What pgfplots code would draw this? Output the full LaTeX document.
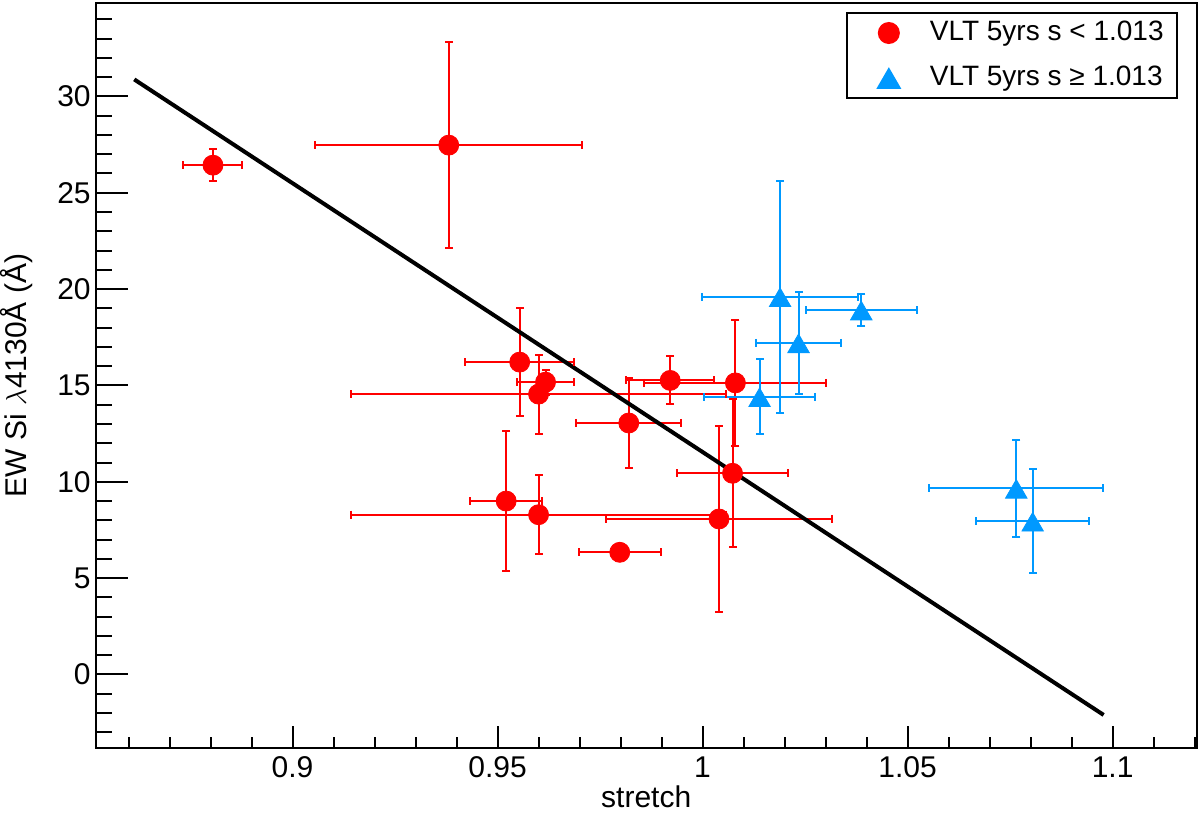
\documentclass[border=0pt]{standalone}
\usepackage{pgfplots}
\usepackage{pgfplotstable}
\pgfplotsset{compat=1.18}
\usepackage{fontspec}
\setmainfont{Liberation Sans}

\definecolor{ptred}{RGB}{255,0,0}
\definecolor{ptblue}{RGB}{0,153,255}

% VLT 5yrs, s < 1.013
\pgfplotstableread{
x       y      ex      ey
0.8806  26.43  0.0072  0.83
0.9381  27.47  0.0326  5.33
0.9554  16.21  0.0133  2.80
0.9617  15.17  0.0069  0.65
0.9600  14.55  0.0457  2.05
0.9521  9.00   0.0088  3.62
0.9600  8.29   0.0457  2.04
0.9798  6.34   0.0100  0.20
1.0040  8.07   0.0275  4.82
1.0073  10.44  0.0135  3.85
1.0080  15.13  0.0222  3.26
0.9921  15.26  0.0107  1.25
0.9820  13.05  0.0128  2.36
}\lowtab

% VLT 5yrs, s >= 1.013
\pgfplotstableread{
x       y      ex      ey
1.0189  19.60  0.0190  6.02
1.0234  17.21  0.0103  2.66
1.0387  18.91  0.0136  0.81
1.0139  14.41  0.0135  1.94
1.0765  9.66   0.0212  2.52
1.0805  7.95   0.0138  2.69
}\hightab

\pgfplotsset{
    caps/.style={only marks, forget plot, mark size=2pt, line width=1pt,
        mark options={line width=1pt}},
}

\begin{document}
\begin{tikzpicture}
\begin{axis}[
    at={(0,0)}, anchor=south west,
    scale only axis,
    width=550.5pt, height=372.2pt,
    xmin=0.852, xmax=1.1205,
    ymin=-3.8, ymax=34.83,
    xtick={0.85,0.9,0.95,1,1.05,1.1,1.15},
    ytick={-5,0,5,10,15,20,25,30,35},
    minor x tick num=4,
    minor y tick num=4,
    tick align=inside,
    xtick pos=bottom, ytick pos=left,
    axis line style={line width=1pt},
    tick style={line width=1pt, black},
    major x tick style={/pgfplots/major tick length=11pt},
    minor x tick style={/pgfplots/minor tick length=5.5pt},
    major y tick style={/pgfplots/major tick length=16pt},
    minor y tick style={/pgfplots/minor tick length=8pt},
    /pgf/number format/assume math mode=true,
    tick label style={font=\fontsize{15}{18}\selectfont},
    xticklabel style={yshift=-1pt},
    yticklabel style={xshift=1pt},
    xlabel={stretch},
    ylabel={EW Si $\lambda$4130Å (Å)},
    label style={font=\fontsize{15}{18}\selectfont},
    xlabel style={at={(axis description cs:0.5,-0.081)}, anchor=base},
    ylabel style={at={(axis description cs:-0.0633,0.5)}, anchor=base},
    legend style={
        at={(0.983,0.9879)}, anchor=north east,
        draw=black, line width=1pt,
        font=\fontsize{14}{17}\selectfont,
        inner xsep=15.7pt, inner ysep=3.35pt,
        nodes={inner sep=0pt, text height=10pt, text depth=3pt},
        row sep=9.5pt, column sep=15.15pt,
    },
    legend cell align=left,
]
% end caps of the error bars
\addplot[caps, ptred, mark=|] table[x expr=\thisrow{x}-\thisrow{ex}, y=y] {\lowtab};
\addplot[caps, ptred, mark=|] table[x expr=\thisrow{x}+\thisrow{ex}, y=y] {\lowtab};
\addplot[caps, ptred, mark=-] table[x=x, y expr=\thisrow{y}-\thisrow{ey}] {\lowtab};
\addplot[caps, ptred, mark=-] table[x=x, y expr=\thisrow{y}+\thisrow{ey}] {\lowtab};
\addplot[caps, ptblue, mark=|] table[x expr=\thisrow{x}-\thisrow{ex}, y=y] {\hightab};
\addplot[caps, ptblue, mark=|] table[x expr=\thisrow{x}+\thisrow{ex}, y=y] {\hightab};
\addplot[caps, ptblue, mark=-] table[x=x, y expr=\thisrow{y}-\thisrow{ey}] {\hightab};
\addplot[caps, ptblue, mark=-] table[x=x, y expr=\thisrow{y}+\thisrow{ey}] {\hightab};

\addplot[only marks, mark=*, mark size=5pt, color=ptred,
    error bars/.cd, x dir=both, x explicit, y dir=both, y explicit,
    error mark=none,
    error bar style={line width=1pt, color=ptred}]
    table[x=x, y=y, x error=ex, y error=ey] {\lowtab};
\addlegendentry{VLT 5yrs s < 1.013\hspace*{-9pt}}

\addplot[only marks, mark=triangle*, mark size=6.2pt, color=ptblue,
    mark options={yshift=-1.8pt},
    error bars/.cd, x dir=both, x explicit, y dir=both, y explicit,
    error mark=none,
    error bar style={line width=1pt, color=ptblue}]
    table[x=x, y=y, x error=ex, y error=ey] {\hightab};
\addlegendentry{VLT 5yrs s ≥ 1.013\hspace*{-9pt}}

% linear fit
\addplot[black, line width=2pt, forget plot] coordinates {
    (0.8614,30.88) (1.0978,-2.10)
};
\end{axis}
\pgfresetboundingbox
\path[use as bounding box] (-47.85pt,-33.15pt) rectangle (552.15pt,373.85pt);
\end{tikzpicture}
\end{document}
